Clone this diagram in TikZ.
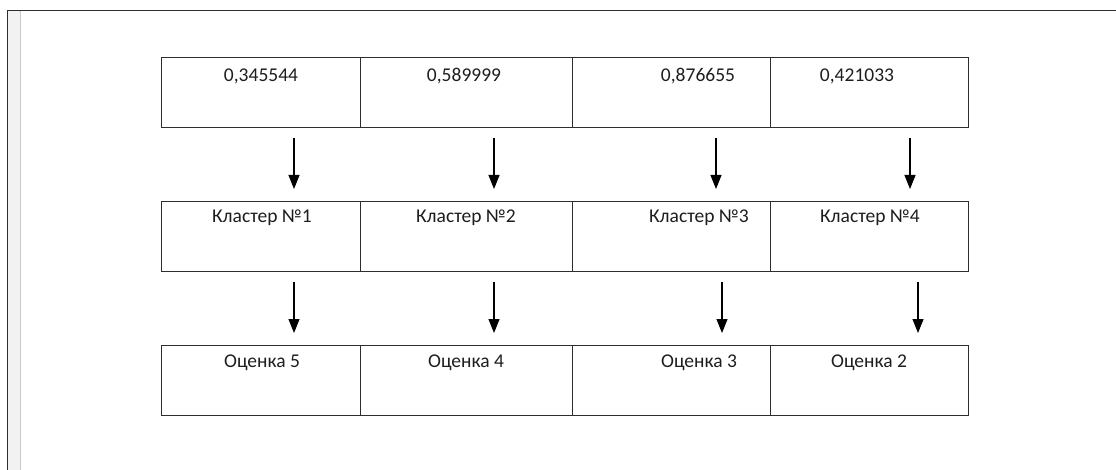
\documentclass[tikz,border=0pt]{standalone}
\usepackage{fontspec}
\setmainfont{Carlito}
\usetikzlibrary{calc,arrows.meta}
\definecolor{rule}{HTML}{2E2E2E}
\definecolor{ink}{HTML}{1E1E1E}
\definecolor{strip}{HTML}{F2F2F2}
\definecolor{stripline}{HTML}{C8C8C8}
\begin{document}
\begin{tikzpicture}[x=1pt,y=-1pt,
  cell/.style={draw=rule,line width=1.4pt,rectangle,anchor=north west,inner sep=0pt,minimum height=70pt},
  celltext/.style={font=\fontsize{19.5}{22}\selectfont,text=ink,anchor=base,inner sep=0pt},
  arr/.style={draw=black,line width=1.1pt,-{Triangle[width=11pt,length=14pt]}}]
\useasboundingbox (0,0) rectangle (1116,470);
\fill[white] (0,0) rectangle (1116,470);
% page edge and margin strip
\fill[strip] (8,11) rectangle (20,470);
\draw[stripline,line width=1pt] (20.5,11) -- (20.5,470);
\draw[rule,line width=1.2pt] (7.5,470) -- (7.5,10.5) -- (1116,10.5);

% row 1: values
\node[cell,minimum width=199pt] (a1) at (161,57) {};
\node[cell,minimum width=212pt] (a2) at (360,57) {};
\node[cell,minimum width=198pt] (a3) at (572,57) {};
\node[cell,minimum width=198pt] (a4) at (770,57) {};
% row 2: clusters
\node[cell,minimum width=199pt] (b1) at (161,201) {};
\node[cell,minimum width=212pt] (b2) at (360,201) {};
\node[cell,minimum width=198pt] (b3) at (572,201) {};
\node[cell,minimum width=198pt] (b4) at (770,201) {};
% row 3: grades
\node[cell,minimum width=199pt] (c1) at (161,345) {};
\node[cell,minimum width=212pt] (c2) at (360,345) {};
\node[cell,minimum width=198pt] (c3) at (572,345) {};
\node[cell,minimum width=198pt] (c4) at (770,345) {};

\node[celltext] (ta1) at (261,82) {0,345544};
\node[celltext] (ta2) at (464,82) {0,589999};
\node[celltext] (ta3) at (698,82) {0,876655};
\node[celltext] (ta4) at (857,82) {0,421033};

\node[celltext] (tb1) at (262,223) {Кластер №1};
\node[celltext] (tb2) at (466,223) {Кластер №2};
\node[celltext] (tb3) at (699,223) {Кластер №3};
\node[celltext] (tb4) at (870,223) {Кластер №4};

\node[celltext] (tc1) at (262,367) {Оценка 5};
\node[celltext] (tc2) at (466,367) {Оценка 4};
\node[celltext] (tc3) at (699,367) {Оценка 3};
\node[celltext] (tc4) at (869,367) {Оценка 2};

% arrow columns
\coordinate (p1) at (294,0);
\coordinate (p2) at (494,0);
\coordinate (p3) at (716,0);
\coordinate (p4) at (910,0);
\coordinate (q1) at (294,0);
\coordinate (q2) at (494,0);
\coordinate (q3) at (722,0);
\coordinate (q4) at (918,0);

\draw[arr] ($(a1.south -| p1)+(0,10)$) -- ($(b1.north -| p1)+(0,-12)$);
\draw[arr] ($(a2.south -| p2)+(0,10)$) -- ($(b2.north -| p2)+(0,-12)$);
\draw[arr] ($(a3.south -| p3)+(0,10)$) -- ($(b3.north -| p3)+(0,-12)$);
\draw[arr] ($(a4.south -| p4)+(0,10)$) -- ($(b4.north -| p4)+(0,-12)$);

\draw[arr] ($(b1.south -| q1)+(0,10)$) -- ($(c1.north -| q1)+(0,-12)$);
\draw[arr] ($(b2.south -| q2)+(0,10)$) -- ($(c2.north -| q2)+(0,-12)$);
\draw[arr] ($(b3.south -| q3)+(0,10)$) -- ($(c3.north -| q3)+(0,-12)$);
\draw[arr] ($(b4.south -| q4)+(0,10)$) -- ($(c4.north -| q4)+(0,-12)$);
\end{tikzpicture}
\end{document}
